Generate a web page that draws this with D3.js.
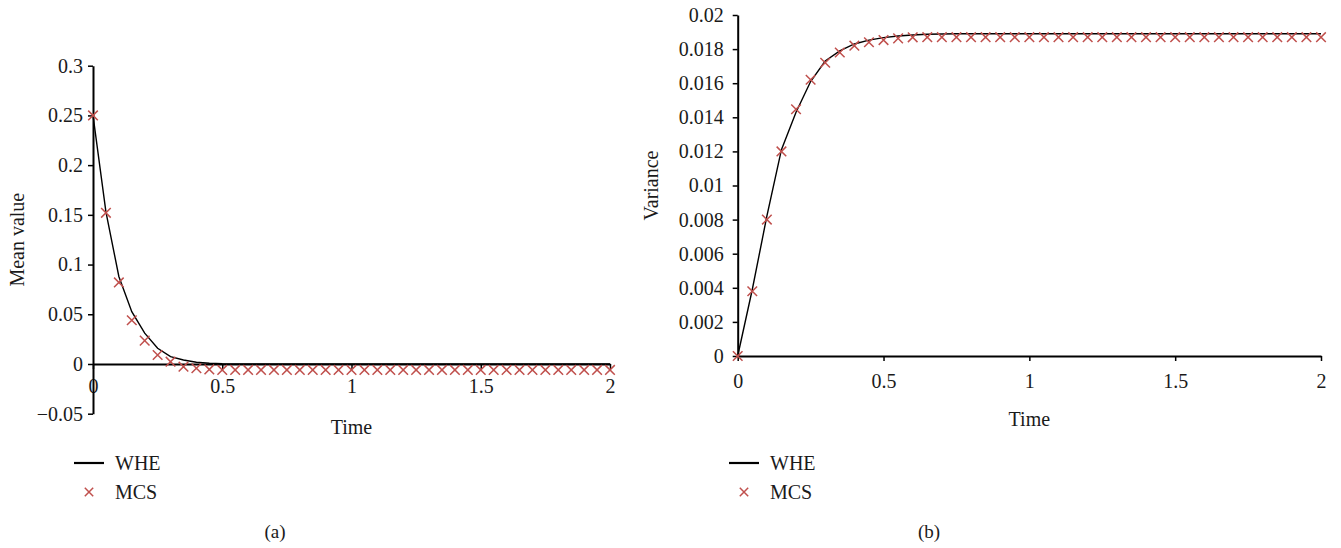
<!DOCTYPE html>
<html>
<head>
<meta charset="utf-8">
<script src="https://cdn.jsdelivr.net/npm/d3@7"></script>
<style>
  html, body { margin: 0; padding: 0; background: #fff; }
  svg { display: block; }
  text { font-family: "Liberation Serif", "Times New Roman", serif; fill: #1a1a1a; }
  .axis path, .axis line { stroke: #000; }
</style>
</head>
<body>
<svg id="chart"></svg>
<script>
// time points (s), shared by both panels
let time = [0, 0.05, 0.1, 0.15, 0.2, 0.25, 0.3, 0.35, 0.4, 0.45,
    0.5, 0.55, 0.6, 0.65, 0.7, 0.75, 0.8, 0.85, 0.9, 0.95,
    1, 1.05, 1.1, 1.15, 1.2, 1.25, 1.3, 1.35, 1.4, 1.45,
    1.5, 1.55, 1.6, 1.65, 1.7, 1.75, 1.8, 1.85, 1.9, 1.95, 2]

// panel (a) mean value
let meanWHE = [0.25, 0.153, 0.088, 0.0526, 0.031, 0.0158, 0.0074, 0.004, 0.0017, 0.0007,
    0.0002, 0, 0, 0, 0, 0, 0, 0, 0, 0,
    0, 0, 0, 0, 0, 0, 0, 0, 0, 0,
    0, 0, 0, 0, 0, 0, 0, 0, 0, 0, 0]
let meanMCS = [0.25, 0.152, 0.082, 0.044, 0.0235, 0.009, 0.0023, -0.0027, -0.0043, -0.0055,
    -0.006, -0.006, -0.006, -0.006, -0.006, -0.006, -0.006, -0.006, -0.006, -0.006,
    -0.006, -0.006, -0.006, -0.006, -0.006, -0.006, -0.006, -0.006, -0.006, -0.006,
    -0.006, -0.006, -0.006, -0.006, -0.006, -0.006, -0.006, -0.006, -0.006, -0.006, -0.006]

// panel (b) variance
let varWHE = [0, 0.0039, 0.0082, 0.0121, 0.0143, 0.0161, 0.0173, 0.0179, 0.0183, 0.01853,
    0.01867, 0.01877, 0.01883, 0.01887, 0.01889, 0.0189, 0.0189, 0.0189, 0.0189, 0.0189,
    0.0189, 0.0189, 0.0189, 0.0189, 0.0189, 0.0189, 0.0189, 0.0189, 0.0189, 0.0189,
    0.0189, 0.0189, 0.0189, 0.0189, 0.0189, 0.0189, 0.0189, 0.0189, 0.0189, 0.0189, 0.0189]
let varMCS = [0, 0.0038, 0.008, 0.012, 0.01447, 0.0162, 0.0172, 0.0178, 0.0182, 0.0184,
    0.01853, 0.01863, 0.01869, 0.0187, 0.0187, 0.0187, 0.0187, 0.0187, 0.0187, 0.0187,
    0.0187, 0.0187, 0.0187, 0.0187, 0.0187, 0.0187, 0.0187, 0.0187, 0.0187, 0.0187,
    0.0187, 0.0187, 0.0187, 0.0187, 0.0187, 0.0187, 0.0187, 0.0187, 0.0187, 0.0187, 0.0187]

let xTicks = [0, 0.5, 1, 1.5, 2]
let meanTicks = [-0.05, 0, 0.05, 0.1, 0.15, 0.2, 0.25, 0.3]
let varTicks = [0, 0.002, 0.004, 0.006, 0.008, 0.01, 0.012, 0.014, 0.016, 0.018, 0.02]
let seriesNames = ['WHE', 'MCS']

const W = 1341, H = 548
const red = '#c0504d'
const fontSize = 20

let svg = d3.select('#chart')
    .attr('width', W)
    .attr('height', H)
    .attr('viewBox', `0 0 ${W} ${H}`)

svg.append('rect').attr('width', W).attr('height', H).attr('fill', '#fff')

let fmt = d => d === 0 ? '0' : d3.format('')(+d.toFixed(3)).replace('-', '\u2212')

function cross(sel, s) {
    return sel.attr('d', `M${-s},${-s}L${s},${s}M${-s},${s}L${s},${-s}`)
        .attr('stroke', red)
        .attr('stroke-width', 1.5)
        .attr('fill', 'none')
}

function panel(cfg) {
    let g = svg.append('g')

    let x = d3.scaleLinear().domain([0, 2]).range(cfg.xRange)
    let y = d3.scaleLinear().domain(cfg.yDomain).range(cfg.yRange)

    // x axis sits on y = 0
    let xAxis = g.append('g')
        .attr('class', 'axis')
        .attr('transform', `translate(0, ${y(0)})`)
        .call(d3.axisBottom(x).tickValues(xTicks).tickFormat(fmt)
            .tickSize(5).tickSizeOuter(0).tickPadding(cfg.xPad))
    xAxis.select('.domain').attr('stroke-width', 2.2)
    xAxis.selectAll('.tick line').attr('stroke-width', 1.5)
    xAxis.selectAll('text').style('font-size', fontSize + 'px').attr('fill', '#1a1a1a')

    let yAxis = g.append('g')
        .attr('class', 'axis')
        .attr('transform', `translate(${cfg.xRange[0]}, 0)`)
        .call(d3.axisLeft(y).tickValues(cfg.yTicks).tickFormat(fmt)
            .tickSize(5).tickSizeOuter(0).tickPadding(cfg.yPad))
    yAxis.select('.domain').attr('stroke-width', 2)
    yAxis.selectAll('.tick line').attr('stroke-width', 1.5)
    yAxis.selectAll('text').style('font-size', fontSize + 'px').attr('fill', '#1a1a1a')

    // axis titles
    g.append('text')
        .attr('x', (cfg.xRange[0] + cfg.xRange[1]) / 2)
        .attr('y', cfg.timeY)
        .attr('text-anchor', 'middle')
        .attr('dominant-baseline', 'central')
        .style('font-size', fontSize + 'px')
        .text('Time')

    g.append('text')
        .attr('transform', `translate(${cfg.yLabelX}, ${(cfg.yRange[0] + cfg.yRange[1]) / 2}) rotate(-90)`)
        .attr('text-anchor', 'middle')
        .attr('dominant-baseline', 'central')
        .style('font-size', fontSize + 'px')
        .text(cfg.yLabel)

    // WHE line
    let line = d3.line().x((d, i) => x(time[i])).y(d => y(d))
    g.append('path')
        .datum(cfg.whe)
        .attr('d', line)
        .attr('fill', 'none')
        .attr('stroke', '#000')
        .attr('stroke-width', 1.4)

    // MCS markers
    g.selectAll('.mcs')
        .data(cfg.mcs)
        .enter().append('path')
        .attr('class', 'mcs')
        .attr('transform', (d, i) => `translate(${x(time[i])}, ${y(d)})`)
        .call(cross, 4.8)

    // legend
    let leg = g.append('g').attr('transform', `translate(${cfg.legX}, 463)`)
    leg.append('line')
        .attr('x1', 0).attr('x2', 30)
        .attr('stroke', '#000').attr('stroke-width', 2.2)
    leg.append('path')
        .attr('transform', 'translate(15, 29)')
        .call(cross, 4.2)
    leg.selectAll('.legText')
        .data(seriesNames)
        .enter().append('text')
        .attr('x', 41)
        .attr('y', (d, i) => i * 29)
        .attr('dominant-baseline', 'central')
        .style('font-size', fontSize + 'px')
        .text(d => d)

    g.append('text')
        .attr('x', cfg.capX)
        .attr('y', 531)
        .attr('text-anchor', 'middle')
        .attr('dominant-baseline', 'central')
        .style('font-size', '19px')
        .text(cfg.caption)
}

panel({
    xRange: [93, 610],
    yDomain: [-0.05, 0.3],
    yRange: [413.7, 65.7],
    yTicks: meanTicks,
    xPad: 10,
    yPad: 5,
    timeY: 427,
    yLabel: 'Mean value',
    yLabelX: 17,
    whe: meanWHE,
    mcs: meanMCS,
    legX: 74,
    capX: 275,
    caption: '(a)'
})

panel({
    xRange: [737.7, 1321],
    yDomain: [0, 0.02],
    yRange: [356, 15],
    yTicks: varTicks,
    xPad: 13,
    yPad: 9,
    timeY: 419,
    yLabel: 'Variance',
    yLabelX: 651,
    whe: varWHE,
    mcs: varMCS,
    legX: 729,
    capX: 929,
    caption: '(b)'
})
</script>
</body>
</html>
